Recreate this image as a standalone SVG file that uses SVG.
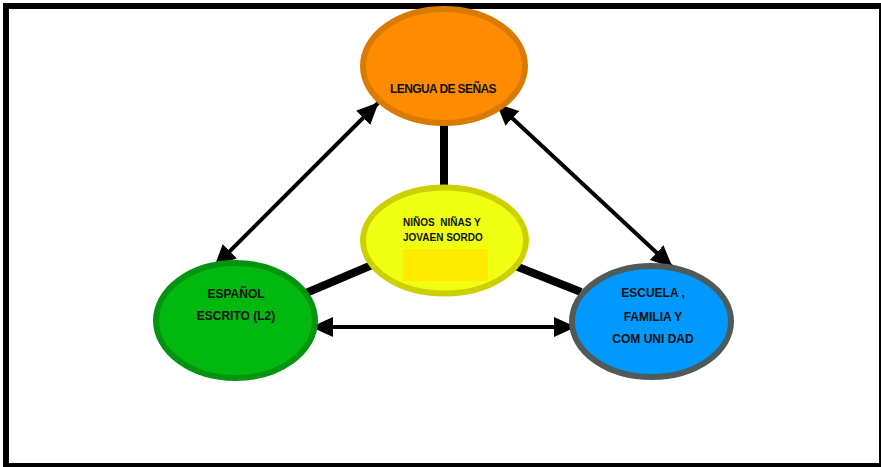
<svg xmlns="http://www.w3.org/2000/svg" width="881" height="467" viewBox="0 0 881 467">
<style>
.lbl{font-family:"Liberation Sans",Arial,sans-serif;font-weight:bold;fill:#111;text-anchor:middle}
.thick{stroke:#000;stroke-width:8;fill:none}
.arr{stroke:#000;stroke-width:4;fill:none;marker-start:url(#ah);marker-end:url(#ah)}
</style>
<defs>
<marker id="ah" markerUnits="userSpaceOnUse" viewBox="0 0 22 20" refX="21" refY="10" markerWidth="22" markerHeight="20" orient="auto-start-reverse">
<path d="M0,0 L22,10 L0,20 Z" fill="#000"/>
</marker>
</defs>
<rect x="0" y="0" width="881" height="467" fill="#fff"/>
<rect x="6" y="6" width="876" height="460" fill="none" stroke="#000" stroke-width="6"/>
<g id="connectors">
<line class="thick" x1="444" y1="124" x2="444" y2="187"/>
<line class="thick" x1="306" y1="293" x2="372" y2="265"/>
<line class="thick" x1="513" y1="265" x2="581" y2="292"/>
<line class="arr" x1="378" y1="103" x2="215" y2="266"/>
<line class="arr" x1="497" y1="104" x2="672" y2="267"/>
<line class="arr" x1="312" y1="327" x2="575" y2="327"/>
</g>
<g id="lengua">
<ellipse cx="444" cy="66" rx="81" ry="57" fill="#FF8C00" stroke="#D97B00" stroke-width="6"/>
<text class="lbl" x="443" y="93" font-size="12" letter-spacing="-0.6">LENGUA DE SEÑAS</text>
</g>
<g id="ninos">
<ellipse cx="444.5" cy="240.5" rx="81.5" ry="53" fill="#F0FF12" stroke="#CCD000" stroke-width="6"/>
<rect x="403" y="249" width="85" height="32" fill="#FFEA00"/>
<text class="lbl" x="403" y="226" font-size="10" style="text-anchor:start">NIÑOS&#160; NIÑAS Y</text>
<text class="lbl" x="403" y="241" font-size="10" style="text-anchor:start">JOVAEN SORDO</text>
</g>
<g id="espanol">
<ellipse cx="235.5" cy="320.5" rx="79.5" ry="57.5" fill="#00B80E" stroke="#009410" stroke-width="6"/>
<text class="lbl" x="236" y="298" font-size="12">ESPAÑOL</text>
<text class="lbl" x="236" y="320" font-size="12">ESCRITO (L2)</text>
</g>
<g id="escuela">
<ellipse cx="651.5" cy="321.5" rx="79.5" ry="55.5" fill="#0099FF" stroke="#4F5B5B" stroke-width="6"/>
<text class="lbl" x="653" y="297" font-size="12">ESCUELA ,</text>
<text class="lbl" x="653" y="321" font-size="12">FAMILIA Y</text>
<text class="lbl" x="653" y="343" font-size="12">COM UNI DAD</text>
</g>
</svg>
